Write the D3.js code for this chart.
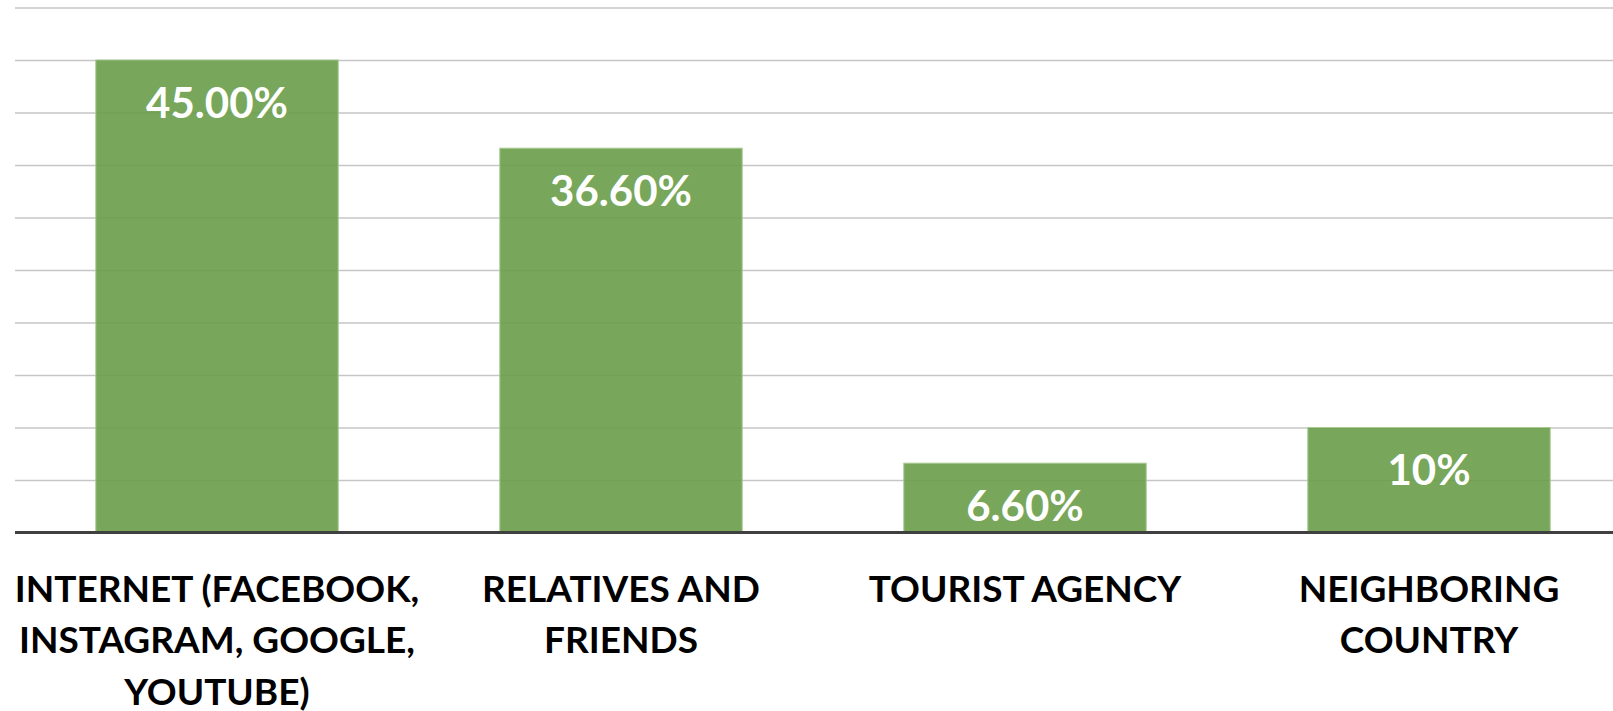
<!DOCTYPE html>
<html>
<head>
<meta charset="utf-8">
<script src="https://cdn.jsdelivr.net/npm/d3@7"></script>
<style>
  html, body { margin: 0; padding: 0; background: #ffffff; overflow: hidden; }
  svg { display: block; }
  text { font-family: Lato, "Noto Sans", "DejaVu Sans", sans-serif; font-weight: 700; }
</style>
</head>
<body>
<svg id="chart"></svg>
<script>
// Sources of travel information (share of respondents, %)
const categories = [
  "INTERNET (FACEBOOK, INSTAGRAM, GOOGLE, YOUTUBE)",
  "RELATIVES AND FRIENDS",
  "TOURIST AGENCY",
  "NEIGHBORING COUNTRY"
];
// Line breaks used for each category label
const categoryLines = [
  ["INTERNET (FACEBOOK,", "INSTAGRAM, GOOGLE,", "YOUTUBE)"],
  ["RELATIVES AND", "FRIENDS"],
  ["TOURIST AGENCY"],
  ["NEIGHBORING", "COUNTRY"]
];
const values = [45.0, 36.6, 6.6, 10];
const valueLabels = ["45.00%", "36.60%", "6.60%", "10%"];
const gridTicks = [5, 10, 15, 20, 25, 30, 35, 40, 45, 50];

const W = 1613, H = 711;
const plot = { left: 15, right: 1631, top: 7.5, bottom: 532.5 };

const svg = d3.select("#chart").attr("width", W).attr("height", H);

const x = d3.scaleBand()
  .domain(categories)
  .range([plot.left, plot.right])
  .paddingInner(0.4)
  .paddingOuter(0.2);

const y = d3.scaleLinear()
  .domain([0, 50])
  .range([plot.bottom, plot.top]);

// Horizontal gridlines
const grid = svg.append("g")
  .attr("transform", `translate(${plot.left},0)`)
  .call(d3.axisLeft(y).tickValues(gridTicks).tickSize(-(W - plot.left)).tickFormat(""));
grid.select(".domain").remove();
grid.selectAll(".tick line").attr("stroke", "#c6c6c6").attr("stroke-width", 1.4);

// Bars
svg.append("g").selectAll("rect")
  .data(values)
  .join("rect")
  .attr("x", (d, i) => x(categories[i]))
  .attr("y", d => y(d))
  .attr("width", x.bandwidth())
  .attr("height", d => y(0) - y(d))
  .attr("fill", "#699d49")
  .attr("fill-opacity", 0.9)
  .attr("stroke", "#a8c992")
  .attr("stroke-width", 1);

// Value labels inside the bars
svg.append("g").selectAll("text")
  .data(values)
  .join("text")
  .attr("x", (d, i) => x(categories[i]) + x.bandwidth() / 2)
  .attr("y", d => y(d) + 57.5)
  .attr("text-anchor", "middle")
  .attr("fill", "#ffffff")
  .attr("font-size", 42)
  .text((d, i) => valueLabels[i]);

// Category axis line
svg.append("line")
  .attr("x1", plot.left).attr("x2", W)
  .attr("y1", plot.bottom).attr("y2", plot.bottom)
  .attr("stroke", "#404040")
  .attr("stroke-width", 3);

// Category labels, centred under each bar
const labelSize = 37, lineHeight = 51.7, firstBaseline = 601.7;
const labels = svg.append("g").selectAll("text")
  .data(categories)
  .join("text")
  .attr("text-anchor", "middle")
  .attr("fill", "#000000")
  .attr("font-size", labelSize);
labels.each(function (cat, i) {
  const cx = x(cat) + x.bandwidth() / 2;
  d3.select(this).selectAll("tspan")
    .data(categoryLines[i])
    .join("tspan")
    .attr("x", cx)
    .attr("y", (d, k) => firstBaseline + k * lineHeight)
    .text(d => d);
});
</script>
</body>
</html>
